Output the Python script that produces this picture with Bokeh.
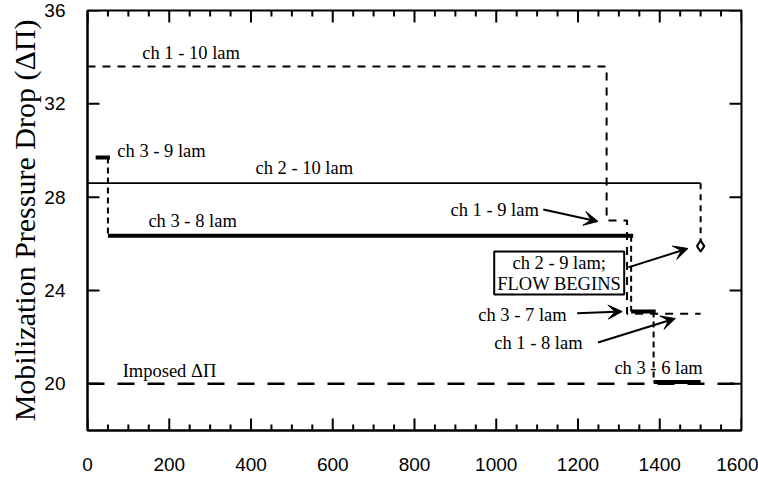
from bokeh.plotting import figure
from bokeh.models import FixedTicker, Range1d, Arrow, VeeHead
from bokeh.core.properties import value
from bokeh.embed import file_html
from bokeh.resources import INLINE

# --- data -------------------------------------------------------------
x_ticks = [0, 200, 400, 600, 800, 1000, 1200, 1400, 1600]
x_minor = [t for t in range(0, 1601, 50) if t % 200]
y_ticks = [20, 24, 28, 32, 36]

# channel 1 (dashed staircase): 10 -> 9 -> 8 lamellae
ch1_x = [0, 1270, 1270, 1320, 1320, 1500]
ch1_y = [33.6, 33.6, 27.0, 27.0, 23.0, 23.0]

# channel 2: 10 lamellae, then 9 lamellae where flow begins
ch2_x = [0, 1500]
ch2_y = [28.6, 28.6]
ch2_drop_x = [1500, 1500]
ch2_drop_y = [28.6, 25.9]
flow_x = [1500]
flow_y = [25.9]

# channel 3 (thick plateaus joined by dashed drops): 9 -> 8 -> 7 -> 6 lamellae
ch3_x0 = [20, 50, 1330, 1385]
ch3_x1 = [55, 1335, 1390, 1500]
ch3_y = [29.7, 26.35, 23.1, 20.08]
ch3_step_x = [50, 1330, 1385]
ch3_step_top = [29.7, 26.35, 23.1]
ch3_step_bot = [26.35, 23.1, 20.08]

imposed_x = [0, 1600]
imposed_y = [20, 20]

# annotation texts and where they sit
label_text = ["ch 1 - 10 lam", "ch 3 - 9 lam", "ch 2 - 10 lam", "ch 3 - 8 lam",
              "ch 1 - 9 lam", "ch 3 - 7 lam", "ch 1 - 8 lam", "ch 3 - 6 lam",
              "Imposed \u0394\u03a0"]
label_x = [134, 73, 411, 149, 888, 956, 995, 1289, 86]
label_y = [34.16, 30.0, 29.23, 27.0, 27.47, 22.93, 21.73, 20.7, 20.56]

box_text = ["ch 2 - 9 lam;", "FLOW BEGINS"]
box_text_x = [1154, 1154]
box_text_y = [25.2, 24.26]
box_lrbt = (995, 1313, 23.83, 25.67)

arrows = [  # (x_start, y_start, x_end, y_end)
    (1115, 27.47, 1249, 26.96),
    (1323, 24.99, 1469, 25.80),
    (1198, 23.02, 1308, 23.10),
    (1249, 21.77, 1438, 22.80),
]

SERIF = "Liberation Serif"
SANS = "Liberation Sans"
X0, X1, Y0, Y1 = 0, 1600, 18, 36
W, H = 758, 481
BL, BR, BT, BB = 87, 17, 10, 51

p = figure(width=W, height=H, x_range=Range1d(X0, X1), y_range=Range1d(Y0, Y1),
           output_backend="svg", toolbar_location=None,
           min_border_left=BL, min_border_right=BR, min_border_top=BT, min_border_bottom=BB)
p.xgrid.visible = False
p.ygrid.visible = False
p.outline_line_color = "black"
p.outline_line_width = 2
p.background_fill_color = "white"
p.border_fill_color = "white"

for ax in (p.xaxis[0], p.yaxis[0]):
    ax.axis_line_width = 2
    ax.axis_line_color = "black"
    ax.major_tick_line_color = None
    ax.minor_tick_line_color = None
    ax.major_tick_out = 0
    ax.major_tick_in = 0
    ax.minor_tick_out = 0
    ax.minor_tick_in = 0
    ax.major_label_text_font = SANS
    ax.major_label_text_font_size = "19px"
    ax.major_label_text_color = "black"

xa = p.xaxis[0]
xa.ticker = FixedTicker(ticks=x_ticks)
xa.major_label_standoff = 27

ya = p.yaxis[0]
ya.ticker = FixedTicker(ticks=y_ticks)
ya.major_label_standoff = 22
ya.axis_label = "Mobilization Pressure Drop (\u0394\u03a0)"
ya.axis_label_text_font = SERIF
ya.axis_label_text_font_style = "normal"
ya.axis_label_text_font_size = "30px"
ya.axis_label_text_color = "black"
ya.axis_label_standoff = 0

# inward tick marks on all four sides, lengths given in pixels
px_x = (X1 - X0) / (W - BL - BR)
px_y = (Y1 - Y0) / (H - BT - BB)
MAJOR, MINOR = 12, 6


def vticks(xs, y_edge, length, sign):
    p.segment(x0=xs, y0=[y_edge] * len(xs), x1=xs,
              y1=[y_edge + sign * length * px_y] * len(xs),
              line_color="black", line_width=2)


def hticks(ys, x_edge, length, sign):
    p.segment(x0=[x_edge] * len(ys), y0=ys,
              x1=[x_edge + sign * length * px_x] * len(ys), y1=ys,
              line_color="black", line_width=2)


vticks(x_ticks, Y0, MAJOR, 1)
vticks(x_minor, Y0, MINOR, 1)
vticks(x_ticks, Y1, MAJOR, -1)
vticks(x_minor, Y1, MINOR, -1)
hticks(y_ticks, X0, MAJOR, 1)
hticks(y_ticks, X1, MAJOR, -1)

# imposed pressure drop
p.line(imposed_x, imposed_y, color="black", line_width=2.5, line_dash="17 13")

# channel 1
p.line(ch1_x, ch1_y, color="black", line_width=2, line_dash="8 7")

# channel 2
p.line(ch2_x, ch2_y, color="black", line_width=1.8)
p.line(ch2_drop_x, ch2_drop_y, color="black", line_width=2, line_dash="6 5")
p.scatter(flow_x, flow_y, marker="diamond", size=11, fill_color="white",
          line_color="black", line_width=2)

# label box (drawn before channel 3 so the drops pass over it)
p.quad(left=[box_lrbt[0]], right=[box_lrbt[1]], bottom=[box_lrbt[2]], top=[box_lrbt[3]],
       fill_color="white", line_color="black", line_width=2)
p.text(box_text_x, box_text_y, text=box_text, text_font=value(SERIF),
       text_font_size="18.5px", text_align="center", text_baseline="middle",
       text_color="black")

# channel 3
p.segment(x0=ch3_step_x, y0=ch3_step_top, x1=ch3_step_x, y1=ch3_step_bot,
          color="black", line_width=2, line_dash="6 4")
p.segment(x0=ch3_x0, y0=ch3_y, x1=ch3_x1, y1=ch3_y, color="black", line_width=4)

p.text(label_x, label_y, text=label_text, text_font=value(SERIF),
       text_font_size="18.5px", text_align="left", text_baseline="middle",
       text_color="black")

for xs, ys, xe, ye in arrows:
    p.add_layout(Arrow(x_start=xs, y_start=ys, x_end=xe, y_end=ye, line_width=2,
                       line_color="black",
                       end=VeeHead(size=14, fill_color="black", line_color="black",
                                   line_width=1)))

open("out.html", "w").write(file_html(p, INLINE))
